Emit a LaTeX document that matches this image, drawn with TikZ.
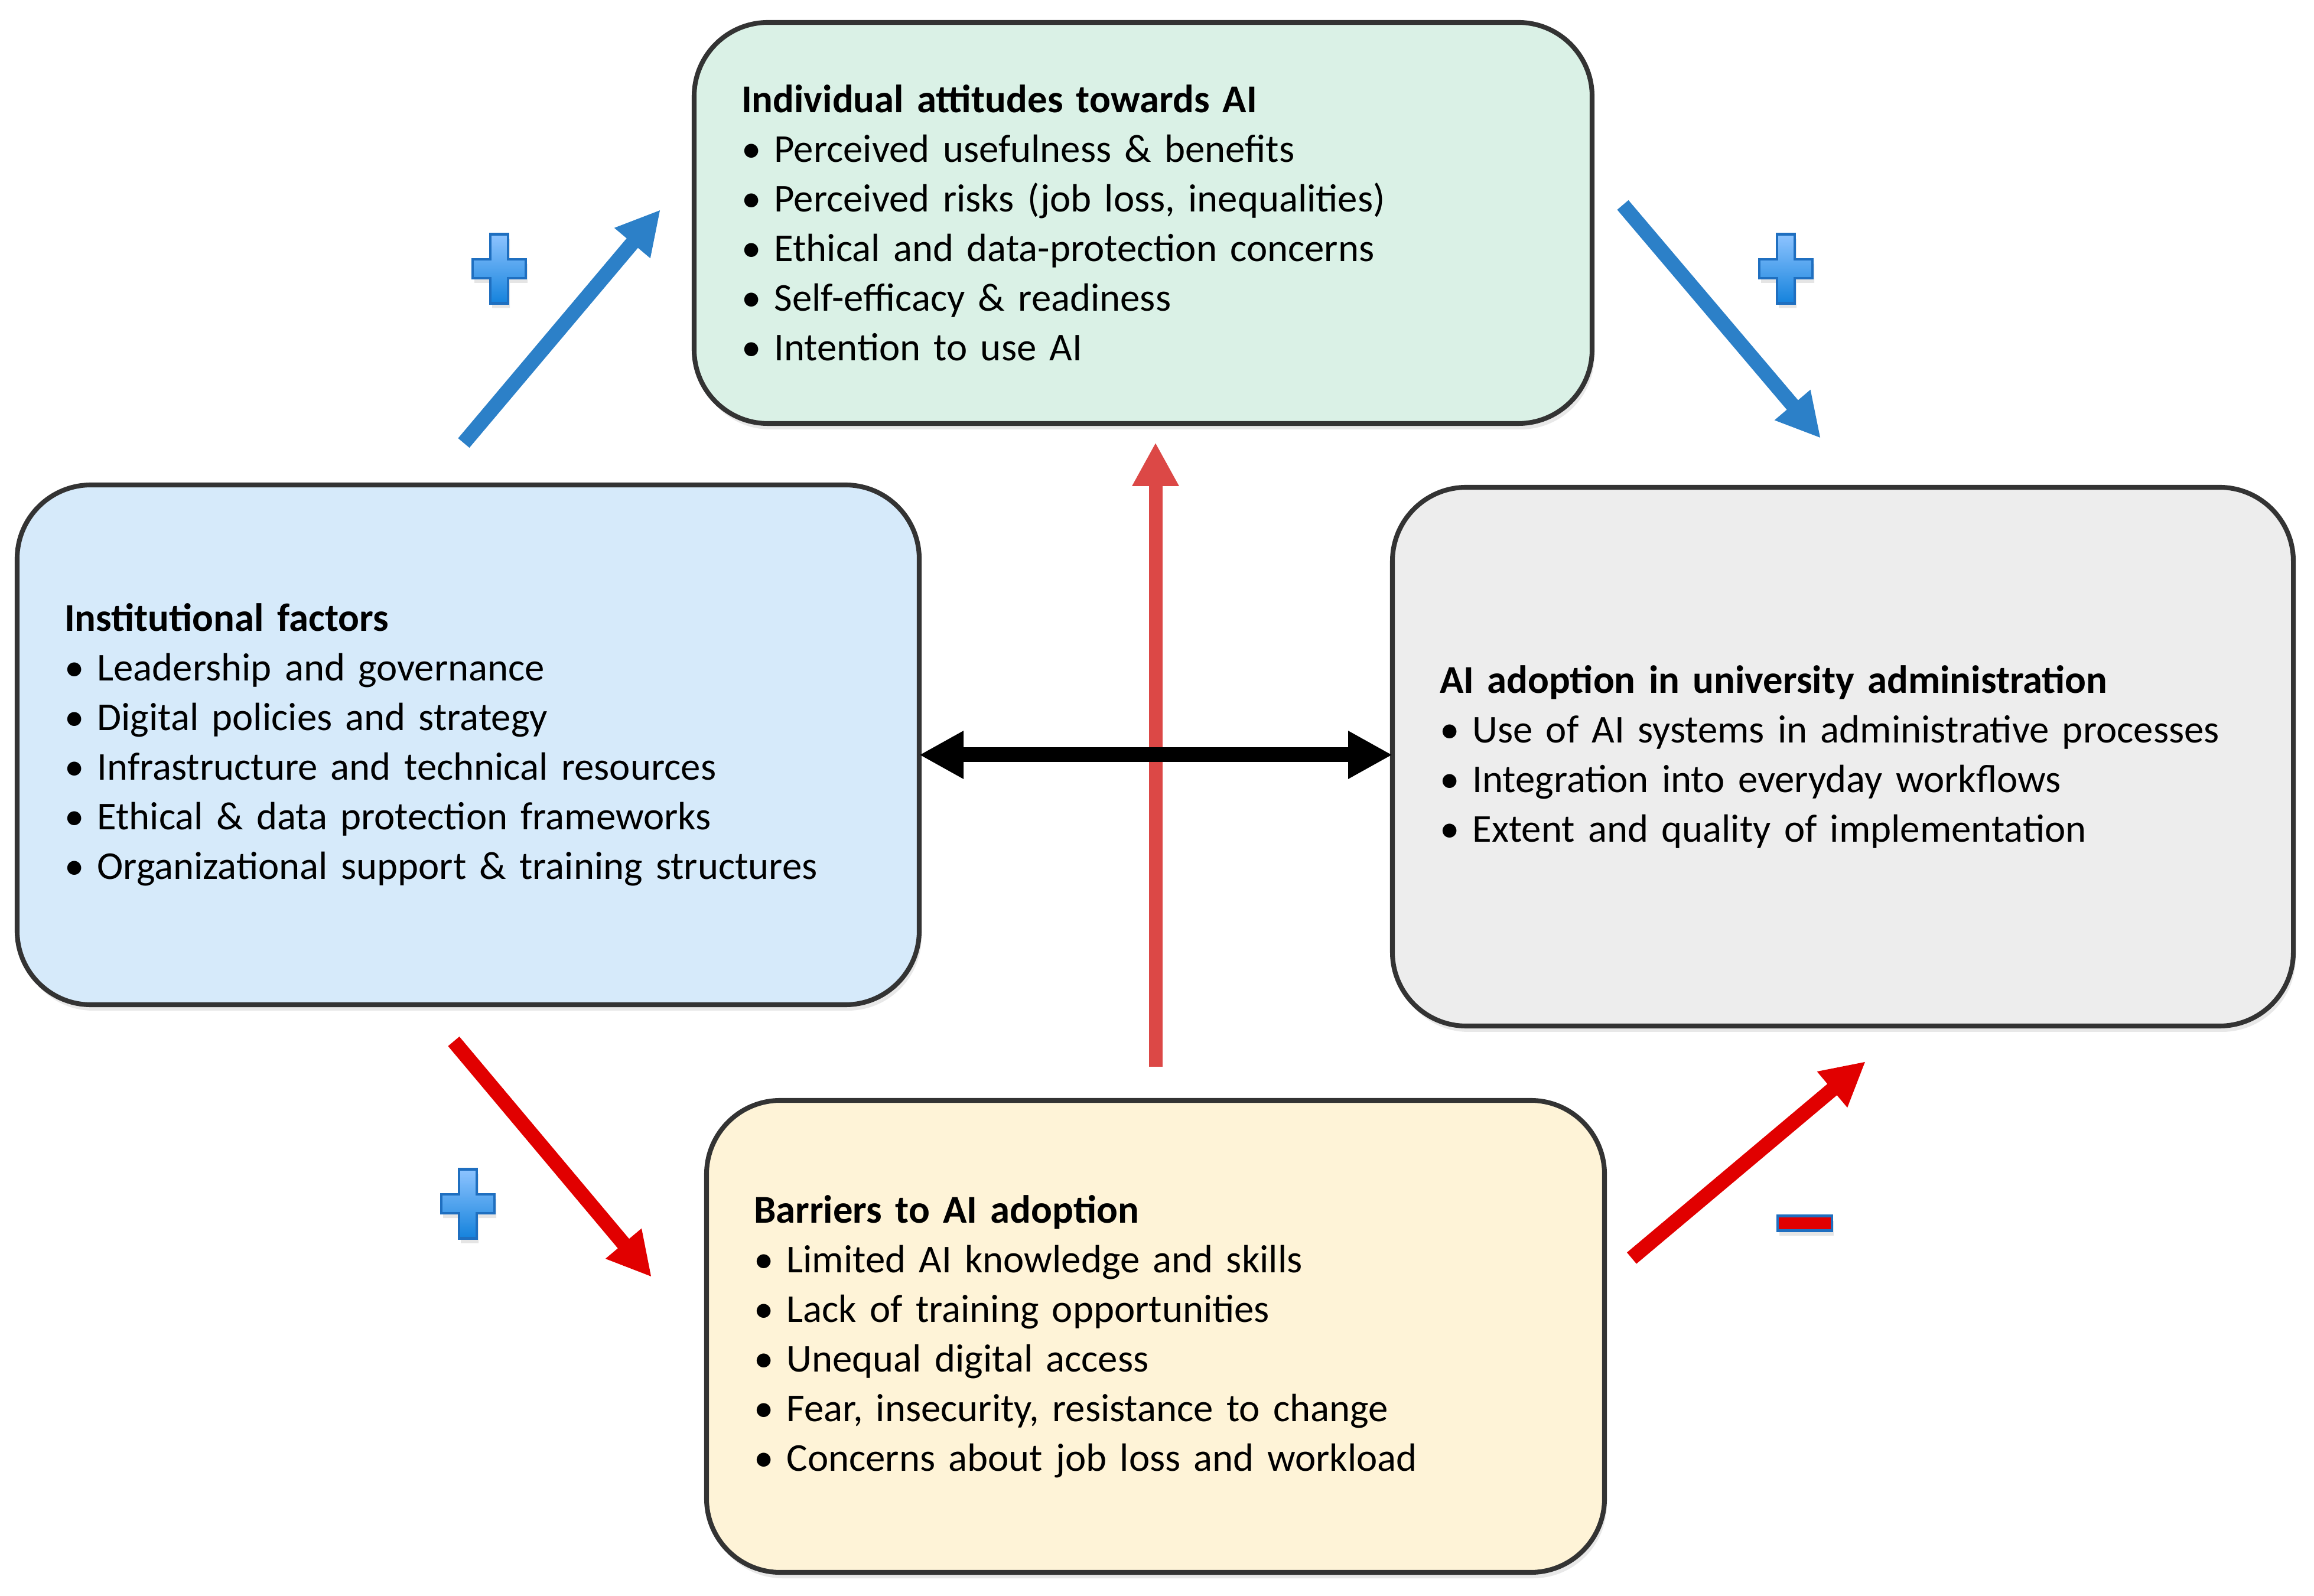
\documentclass[tikz,border=0pt]{standalone}
\usepackage{fontspec}
\setmainfont{Carlito}
\usetikzlibrary{arrows.meta,shadows}

\definecolor{boxline}{RGB}{51,51,51}
\definecolor{attfill}{RGB}{218,241,230}
\definecolor{instfill}{RGB}{214,234,250}
\definecolor{adoptfill}{RGB}{237,237,237}
\definecolor{barrfill}{RGB}{254,243,215}
\definecolor{posblue}{RGB}{44,128,200}
\definecolor{negred}{RGB}{225,0,0}
\definecolor{softred}{RGB}{220,72,70}
\definecolor{pluslight}{RGB}{142,196,255}
\definecolor{plusdark}{RGB}{20,130,220}
\definecolor{plusedge}{RGB}{31,111,192}

\tikzset{
  factor/.style={draw=boxline, line width=2.3pt, rounded corners=1.25cm,
    align=left, inner xsep=0.8cm, inner ysep=0pt, outer sep=0pt,
    font=\fontsize{19}{23.9}\selectfont,
    drop shadow={shadow xshift=0.04cm, shadow yshift=-0.1cm, opacity=0.18}},
  effect/.style={line width=0.25cm, ->},
  plusmark/.pic={
    \draw[plusedge, line width=1.2pt, top color=pluslight, bottom color=plusdark,
      drop shadow={shadow xshift=0.03cm, shadow yshift=-0.08cm, opacity=0.2}]
      (-0.15,-0.585) -- (-0.15,-0.16) -- (-0.45,-0.16) -- (-0.45,0.16)
      -- (-0.15,0.16) -- (-0.15,0.585) -- (0.15,0.585) -- (0.15,0.16)
      -- (0.45,0.16) -- (0.45,-0.16) -- (0.15,-0.16) -- (0.15,-0.585) -- cycle;
  }
}

\begin{document}
\begin{tikzpicture}[>={Triangle[length=0.74cm,width=0.74cm]}]
  \useasboundingbox[fill=white] (0,0) rectangle (39.17,27.01);

  \node[factor, fill=attfill, text width=13.6cm, minimum height=6.79cm] (att) at (19.35,23.235)
    {\textbf{Individual attitudes towards AI}\\
     • Perceived usefulness \& benefits\\
     • Perceived risks (job loss, inequalities)\\
     • Ethical and data-protection concerns\\
     • Self-efficacy \& readiness\\
     • Intention to use AI};
  \node[factor, fill=instfill, text width=13.67cm, minimum height=8.8cm] (inst) at (7.925,14.40)
    {\textbf{Institutional factors}\\
     • Leadership and governance\\
     • Digital policies and strategy\\
     • Infrastructure and technical resources\\
     • Ethical \& data protection frameworks\\
     • Organizational support \& training structures};
  \node[factor, fill=adoptfill, text width=13.65cm, minimum height=9.12cm] (adopt) at (31.195,14.20)
    {\textbf{AI adoption in university administration}\\
     • Use of AI systems in administrative processes\\
     • Integration into everyday workflows\\
     • Extent and quality of implementation};
  \node[factor, fill=barrfill, text width=13.6cm, minimum height=7.99cm] (barr) at (19.56,4.385)
    {\textbf{Barriers to AI adoption}\\
     • Limited AI knowledge and skills\\
     • Lack of training opportunities\\
     • Unequal digital access\\
     • Fear, insecurity, resistance to change\\
     • Concerns about job loss and workload};

  \coordinate (instup) at (7.85,19.51);
  \coordinate (atttip) at (11.18,23.46);
  \coordinate (attout) at (27.47,23.54);
  \coordinate (adopttip) at (30.82,19.59);
  \coordinate (instdown) at (7.68,9.38);
  \coordinate (barrtip) at (11.03,5.39);
  \coordinate (barrout) at (27.62,5.71);
  \coordinate (adoptlow) at (31.58,9.04);
  \coordinate (barrup) at (19.56,8.95);
  \coordinate (attlow) at (19.56,19.52);
  \coordinate (mid) at (19.56,14.23);

  \draw[effect, posblue] (instup) -- (atttip);
  \draw[effect, posblue] (attout) -- (adopttip);
  \draw[effect, negred] (instdown) -- (barrtip);
  \draw[effect, negred] (barrout) -- (adoptlow);
  \draw[line width=0.23cm, ->, softred] (barrup) -- (attlow);
  \draw[line width=0.25cm, <->, black, >={Triangle[length=0.75cm,width=0.76cm]}]
    (inst.east |- mid) -- (adopt.west |- mid);

  \foreach \pos in {(8.45,22.46),(30.23,22.46),(7.92,6.63)}{
    \pic at \pos {plusmark};
  }
  \draw[plusedge, line width=1.2pt, fill=negred,
    drop shadow={shadow xshift=0.03cm, shadow yshift=-0.08cm, opacity=0.2}]
    (30.09,6.175) rectangle (31.01,6.425);
\end{tikzpicture}
\end{document}
